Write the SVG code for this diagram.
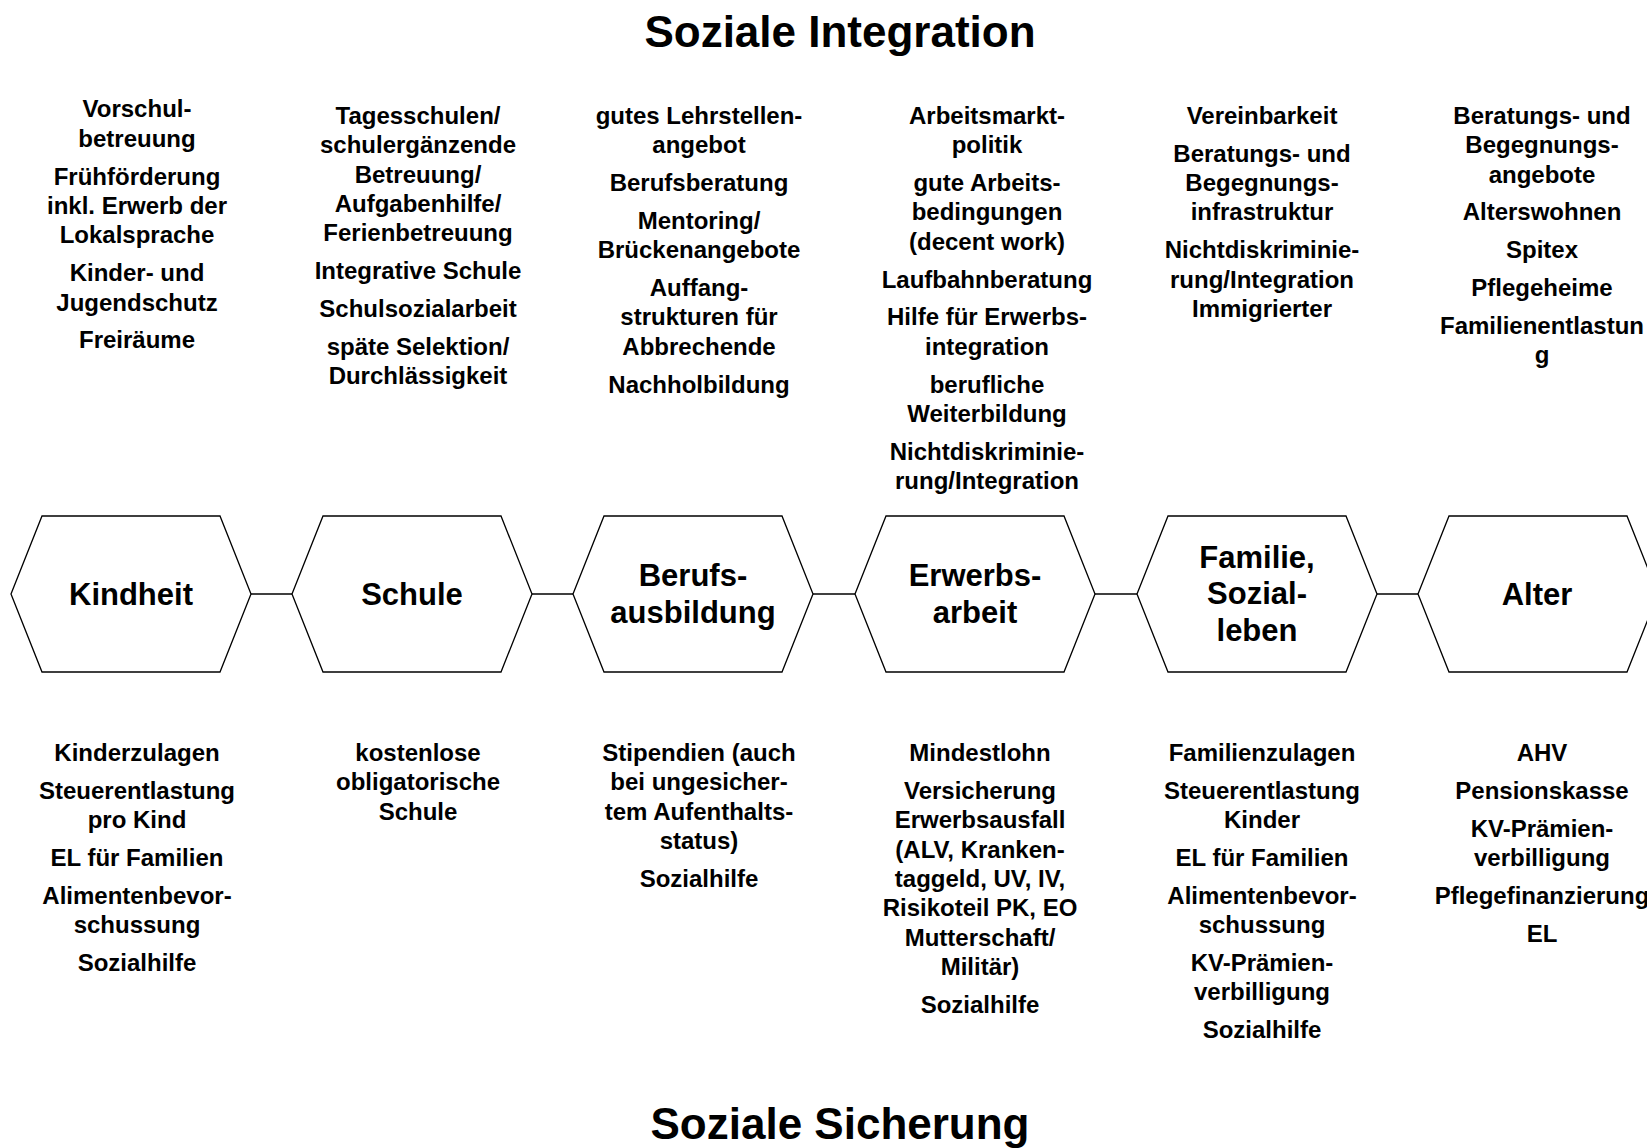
<svg xmlns="http://www.w3.org/2000/svg" width="1647" height="1148" viewBox="0 0 1647 1148">
<style>
text{font-family:"Liberation Sans",Arial,sans-serif;font-weight:bold;fill:#000;text-anchor:middle}
.t{font-size:44px}
.h{font-size:31px}
.s{font-size:24px}
.hex{fill:#fff;stroke:#000;stroke-width:1.3}
.c{stroke:#000;stroke-width:1.3;fill:none}
</style>
<rect width="1647" height="1148" fill="#fff"/>
<text class="t" x="840" y="47">Soziale Integration</text>
<text class="t" x="840" y="1139">Soziale Sicherung</text>
<g id="connectors">
<line class="c" x1="251" y1="594" x2="292" y2="594"/>
<line class="c" x1="532" y1="594" x2="573" y2="594"/>
<line class="c" x1="813" y1="594" x2="855" y2="594"/>
<line class="c" x1="1095" y1="594" x2="1137" y2="594"/>
<line class="c" x1="1377" y1="594" x2="1418" y2="594"/>
</g>
<g id="kindheit">
<polygon class="hex" points="11,594 42,516 220,516 251,594 220,672 42,672"/>
<text class="h" x="131" y="605">Kindheit</text>
</g>
<g id="schule">
<polygon class="hex" points="292,594 323,516 501,516 532,594 501,672 323,672"/>
<text class="h" x="412" y="605">Schule</text>
</g>
<g id="berufsausbildung">
<polygon class="hex" points="573,594 604,516 782,516 813,594 782,672 604,672"/>
<text class="h" x="693"><tspan x="693" y="586">Berufs-</tspan><tspan x="693" y="623">ausbildung</tspan></text>
</g>
<g id="erwerbsarbeit">
<polygon class="hex" points="855,594 886,516 1064,516 1095,594 1064,672 886,672"/>
<text class="h" x="975"><tspan x="975" y="586">Erwerbs-</tspan><tspan x="975" y="623">arbeit</tspan></text>
</g>
<g id="familie">
<polygon class="hex" points="1137,594 1168,516 1346,516 1377,594 1346,672 1168,672"/>
<text class="h" x="1257"><tspan x="1257" y="568">Familie,</tspan><tspan x="1257" y="604">Sozial-</tspan><tspan x="1257" y="641">leben</tspan></text>
</g>
<g id="alter">
<polygon class="hex" points="1418,594 1449,516 1627,516 1658,594 1627,672 1449,672"/>
<text class="h" x="1537" y="605">Alter</text>
</g>
<g id="integration-texts">
<text class="s"><tspan x="137" y="117.4">Vorschul-</tspan><tspan x="137" y="146.8">betreuung</tspan><tspan x="137" y="184.6">Frühförderung</tspan><tspan x="137" y="214">inkl. Erwerb der</tspan><tspan x="137" y="243.4">Lokalsprache</tspan><tspan x="137" y="281.2">Kinder- und</tspan><tspan x="137" y="310.6">Jugendschutz</tspan><tspan x="137" y="348.4">Freiräume</tspan></text>
<text class="s"><tspan x="418" y="123.7">Tagesschulen/</tspan><tspan x="418" y="153.1">schulergänzende</tspan><tspan x="418" y="182.5">Betreuung/</tspan><tspan x="418" y="211.9">Aufgabenhilfe/</tspan><tspan x="418" y="241.3">Ferienbetreuung</tspan><tspan x="418" y="279.1">Integrative Schule</tspan><tspan x="418" y="316.9">Schulsozialarbeit</tspan><tspan x="418" y="354.7">späte Selektion/</tspan><tspan x="418" y="384.1">Durchlässigkeit</tspan></text>
<text class="s"><tspan x="699" y="123.7">gutes Lehrstellen-</tspan><tspan x="699" y="153.1">angebot</tspan><tspan x="699" y="190.9">Berufsberatung</tspan><tspan x="699" y="228.7">Mentoring/</tspan><tspan x="699" y="258.1">Brückenangebote</tspan><tspan x="699" y="295.9">Auffang-</tspan><tspan x="699" y="325.3">strukturen für</tspan><tspan x="699" y="354.7">Abbrechende</tspan><tspan x="699" y="392.5">Nachholbildung</tspan></text>
<text class="s"><tspan x="987" y="123.7">Arbeitsmarkt-</tspan><tspan x="987" y="153.1">politik</tspan><tspan x="987" y="190.9">gute Arbeits-</tspan><tspan x="987" y="220.3">bedingungen</tspan><tspan x="987" y="249.7">(decent work)</tspan><tspan x="987" y="287.5">Laufbahnberatung</tspan><tspan x="987" y="325.3">Hilfe für Erwerbs-</tspan><tspan x="987" y="354.7">integration</tspan><tspan x="987" y="392.5">berufliche</tspan><tspan x="987" y="421.9">Weiterbildung</tspan><tspan x="987" y="459.7">Nichtdiskriminie-</tspan><tspan x="987" y="489.1">rung/Integration</tspan></text>
<text class="s"><tspan x="1262" y="123.7">Vereinbarkeit</tspan><tspan x="1262" y="161.5">Beratungs- und</tspan><tspan x="1262" y="190.9">Begegnungs-</tspan><tspan x="1262" y="220.3">infrastruktur</tspan><tspan x="1262" y="258.1">Nichtdiskriminie-</tspan><tspan x="1262" y="287.5">rung/Integration</tspan><tspan x="1262" y="316.9">Immigrierter</tspan></text>
<text class="s"><tspan x="1542" y="123.7">Beratungs- und</tspan><tspan x="1542" y="153.1">Begegnungs-</tspan><tspan x="1542" y="182.5">angebote</tspan><tspan x="1542" y="220.3">Alterswohnen</tspan><tspan x="1542" y="258.1">Spitex</tspan><tspan x="1542" y="295.9">Pflegeheime</tspan><tspan x="1542" y="333.7">Familienentlastun</tspan><tspan x="1542" y="363.1">g</tspan></text>
</g>
<g id="sicherung-texts">
<text class="s"><tspan x="137" y="761">Kinderzulagen</tspan><tspan x="137" y="798.8">Steuerentlastung</tspan><tspan x="137" y="828.2">pro Kind</tspan><tspan x="137" y="866">EL für Familien</tspan><tspan x="137" y="903.8">Alimentenbevor-</tspan><tspan x="137" y="933.2">schussung</tspan><tspan x="137" y="971">Sozialhilfe</tspan></text>
<text class="s"><tspan x="418" y="761">kostenlose</tspan><tspan x="418" y="790.4">obligatorische</tspan><tspan x="418" y="819.8">Schule</tspan></text>
<text class="s"><tspan x="699" y="761">Stipendien (auch</tspan><tspan x="699" y="790.4">bei ungesicher-</tspan><tspan x="699" y="819.8">tem Aufenthalts-</tspan><tspan x="699" y="849.2">status)</tspan><tspan x="699" y="887">Sozialhilfe</tspan></text>
<text class="s"><tspan x="980" y="761">Mindestlohn</tspan><tspan x="980" y="798.8">Versicherung</tspan><tspan x="980" y="828.2">Erwerbsausfall</tspan><tspan x="980" y="857.6">(ALV, Kranken-</tspan><tspan x="980" y="887">taggeld, UV, IV,</tspan><tspan x="980" y="916.4">Risikoteil PK, EO</tspan><tspan x="980" y="945.8">Mutterschaft/</tspan><tspan x="980" y="975.2">Militär)</tspan><tspan x="980" y="1013">Sozialhilfe</tspan></text>
<text class="s"><tspan x="1262" y="761">Familienzulagen</tspan><tspan x="1262" y="798.8">Steuerentlastung</tspan><tspan x="1262" y="828.2">Kinder</tspan><tspan x="1262" y="866">EL für Familien</tspan><tspan x="1262" y="903.8">Alimentenbevor-</tspan><tspan x="1262" y="933.2">schussung</tspan><tspan x="1262" y="971">KV-Prämien-</tspan><tspan x="1262" y="1000.4">verbilligung</tspan><tspan x="1262" y="1038.2">Sozialhilfe</tspan></text>
<text class="s"><tspan x="1542" y="761">AHV</tspan><tspan x="1542" y="798.8">Pensionskasse</tspan><tspan x="1542" y="836.6">KV-Prämien-</tspan><tspan x="1542" y="866">verbilligung</tspan><tspan x="1542" y="903.8">Pflegefinanzierung</tspan><tspan x="1542" y="941.6">EL</tspan></text>
</g>
</svg>
